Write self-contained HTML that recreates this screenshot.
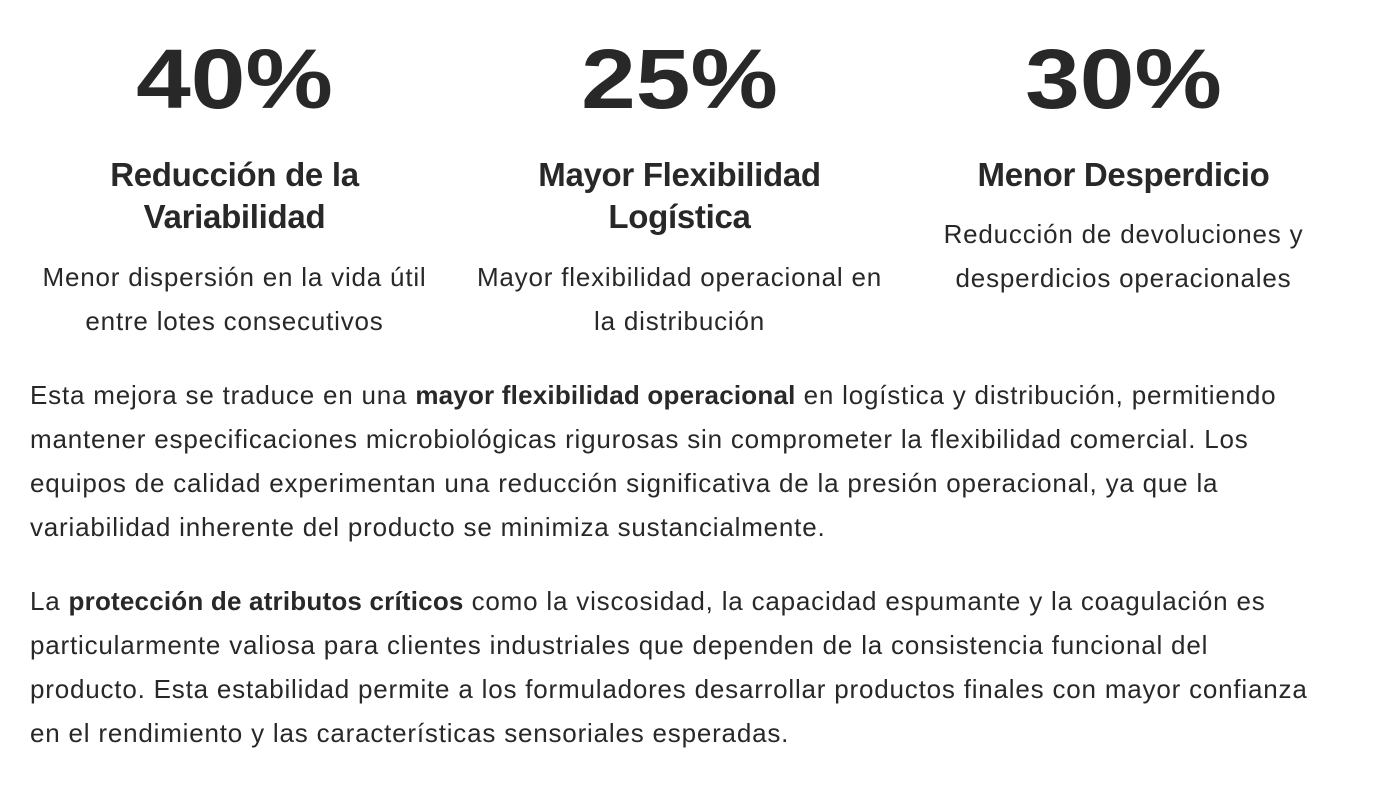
<!DOCTYPE html>
<html><head><meta charset="utf-8"><style>
body{margin:0;width:1380px;height:806px;background:#fff;color:#282828;font-family:"Liberation Sans",sans-serif;position:relative;overflow:hidden}
.a{position:absolute;white-space:nowrap;text-align:center}
.n{font-size:84px;line-height:84px;font-weight:bold;top:37px;width:445px;transform:scaleX(1.17);transform-origin:center}
.t{font-size:33px;line-height:42px;font-weight:bold;top:154px;width:445px;letter-spacing:-0.3px}
.d{font-size:26px;line-height:44px;width:445px;letter-spacing:0.8px}
.p{position:absolute;left:30px;font-size:26px;line-height:44px;white-space:nowrap;letter-spacing:0.8px}
b{font-weight:bold;letter-spacing:0.2px}
</style></head><body>
<div class="a n" style="left:12px">40%</div>
<div class="a n" style="left:457px">25%</div>
<div class="a n" style="left:901px">30%</div>
<div class="a t" style="left:12px">Reducción de la<br>Variabilidad</div>
<div class="a t" style="left:457px">Mayor Flexibilidad<br>Logística</div>
<div class="a t" style="left:901px">Menor Desperdicio</div>
<div class="a d" style="left:12px;top:255px">Menor dispersión en la vida útil<br>entre lotes consecutivos</div>
<div class="a d" style="left:457px;top:255px">Mayor flexibilidad operacional en<br>la distribución</div>
<div class="a d" style="left:901px;top:212px">Reducción de devoluciones y<br>desperdicios operacionales</div>
<div class="p" style="top:373px">Esta mejora se traduce en una <b>mayor flexibilidad operacional</b> en logística y distribución, permitiendo<br>mantener especificaciones microbiológicas rigurosas sin comprometer la flexibilidad comercial. Los<br>equipos de calidad experimentan una reducción significativa de la presión operacional, ya que la<br>variabilidad inherente del producto se minimiza sustancialmente.</div>
<div class="p" style="top:579px">La <b>protección de atributos críticos</b> como la viscosidad, la capacidad espumante y la coagulación es<br>particularmente valiosa para clientes industriales que dependen de la consistencia funcional del<br>producto. Esta estabilidad permite a los formuladores desarrollar productos finales con mayor confianza<br>en el rendimiento y las características sensoriales esperadas.</div>
</body></html>
